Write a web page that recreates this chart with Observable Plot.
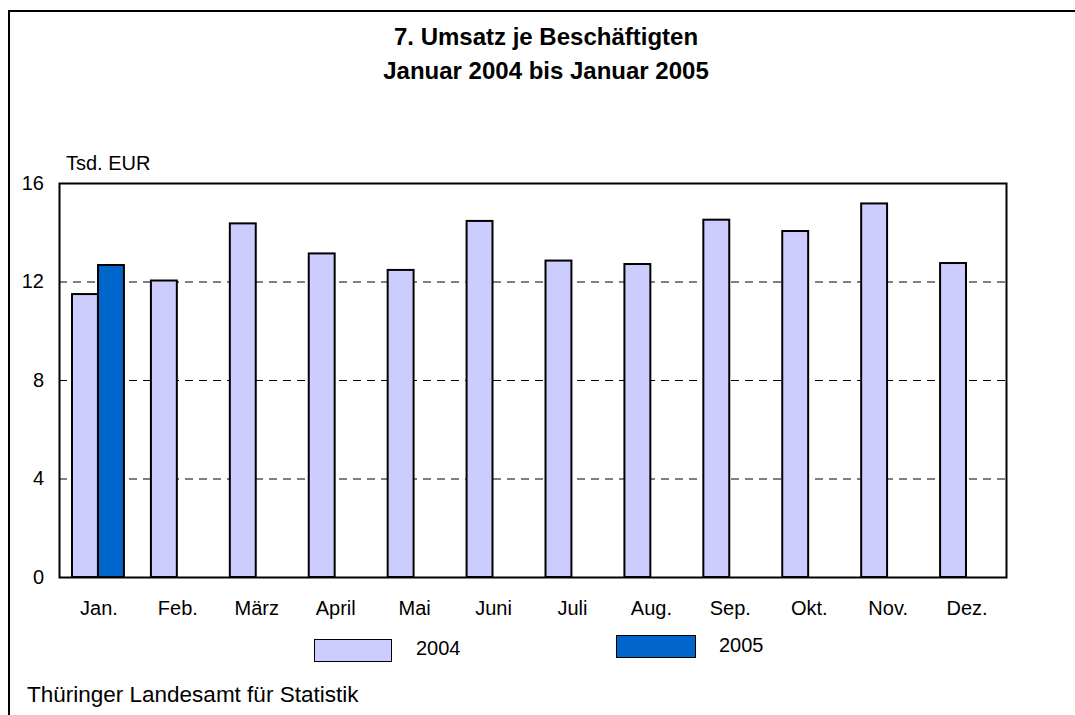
<!DOCTYPE html>
<html>
<head>
<meta charset="utf-8">
<script src="https://cdn.jsdelivr.net/npm/d3@7"></script>
<script src="https://cdn.jsdelivr.net/npm/@observablehq/plot@0.6"></script>
<style>
  body { margin: 0; background: #fff; font-family: "Liberation Sans", Arial, sans-serif; }
  #wrap { position: relative; width: 1075px; height: 715px; overflow: hidden; }
  #border { position: absolute; left: 8px; top: 10px; width: 1100px; height: 800px; border-left: 2px solid #000; border-top: 2px solid #000; }
  .abs { position: absolute; white-space: nowrap; color: #000; }
  #title { left: 0; width: 1092px; top: 20px; text-align: center; font-weight: bold; font-size: 24px; line-height: 34px; }
  #unit { left: 66px; top: 153px; font-size: 20px; line-height: 20px; }
  #footer { left: 27px; top: 684px; font-size: 22.5px; line-height: 22.5px; }
  .sw { position: absolute; border: 1.5px solid #000; box-sizing: border-box; }
  .lt { position: absolute; font-size: 20px; line-height: 20px; white-space: nowrap; }
  #chart { position: absolute; left: 0; top: 0; }
</style>
</head>
<body>
<div id="wrap">
  <div id="border"></div>
  <div id="chart"></div>
  <div id="title" class="abs">7. Umsatz je Beschäftigten<br>Januar 2004 bis Januar 2005</div>
  <div id="unit" class="abs">Tsd. EUR</div>
  <div id="legend"></div>
  <div id="footer" class="abs">Thüringer Landesamt für Statistik</div>
</div>
<script>
const months = ["Jan.", "Feb.", "März", "April", "Mai", "Juni", "Juli", "Aug.", "Sep.", "Okt.", "Nov.", "Dez."];
const values2004 = [11.49, 12.04, 14.36, 13.14, 12.47, 14.46, 12.85, 12.71, 14.51, 14.05, 15.17, 12.75];
const months2005 = ["Jan."];
const values2005 = [12.67];
const yTicks = [0, 4, 8, 12, 16];
const gridTicks = [4, 8, 12];
const seriesNames = ["2004", "2005"];
const seriesColors = ["#CCCCFF", "#0066CC"];

const d2004 = months.map((m, i) => ({month: m, value: values2004[i]}));
const d2005 = months2005.map((m, i) => ({month: m, value: values2005[i]}));

const chart = Plot.plot({
  width: 1075,
  height: 715,
  marginLeft: 59,
  marginRight: 69,
  marginTop: 183,
  marginBottom: 138,
  style: {fontFamily: "'Liberation Sans', Arial, sans-serif", fontSize: "20px", color: "#000", background: "transparent", overflow: "visible"},
  x: {domain: months, padding: 0, round: false, label: null, tickSize: 0, tickPadding: 23},
  y: {domain: [0, 16], ticks: yTicks, label: null, tickSize: 0, tickPadding: 15.5},
  marks: [
    Plot.ruleY(gridTicks, {stroke: "#000", strokeWidth: 1, strokeDasharray: "8,6"}),
    Plot.barY(d2004, {x: "month", y: "value", fill: seriesColors[0], stroke: "#000", strokeWidth: 2, insetLeft: 13, insetRight: 40}),
    Plot.barY(d2005, {x: "month", y: "value", fill: seriesColors[1], stroke: "#000", strokeWidth: 2, insetLeft: 39, insetRight: 14}),
    Plot.frame({stroke: "#000", strokeWidth: 2})
  ]
});
document.getElementById("chart").appendChild(chart);

const legend = document.getElementById("legend");
const legendPos = [{sx: 314, sy: 639, sw: 78, tx: 416, ty: 638}, {sx: 616, sy: 635, sw: 80, tx: 719, ty: 635}];
seriesNames.forEach((name, i) => {
  const sw = document.createElement("div");
  sw.className = "sw";
  sw.style.left = legendPos[i].sx + "px";
  sw.style.top = legendPos[i].sy + "px";
  sw.style.width = legendPos[i].sw + "px";
  sw.style.height = "23px";
  sw.style.background = seriesColors[i];
  legend.appendChild(sw);
  const t = document.createElement("div");
  t.className = "lt";
  t.style.left = legendPos[i].tx + "px";
  t.style.top = legendPos[i].ty + "px";
  t.textContent = name;
  legend.appendChild(t);
});
</script>
</body>
</html>
